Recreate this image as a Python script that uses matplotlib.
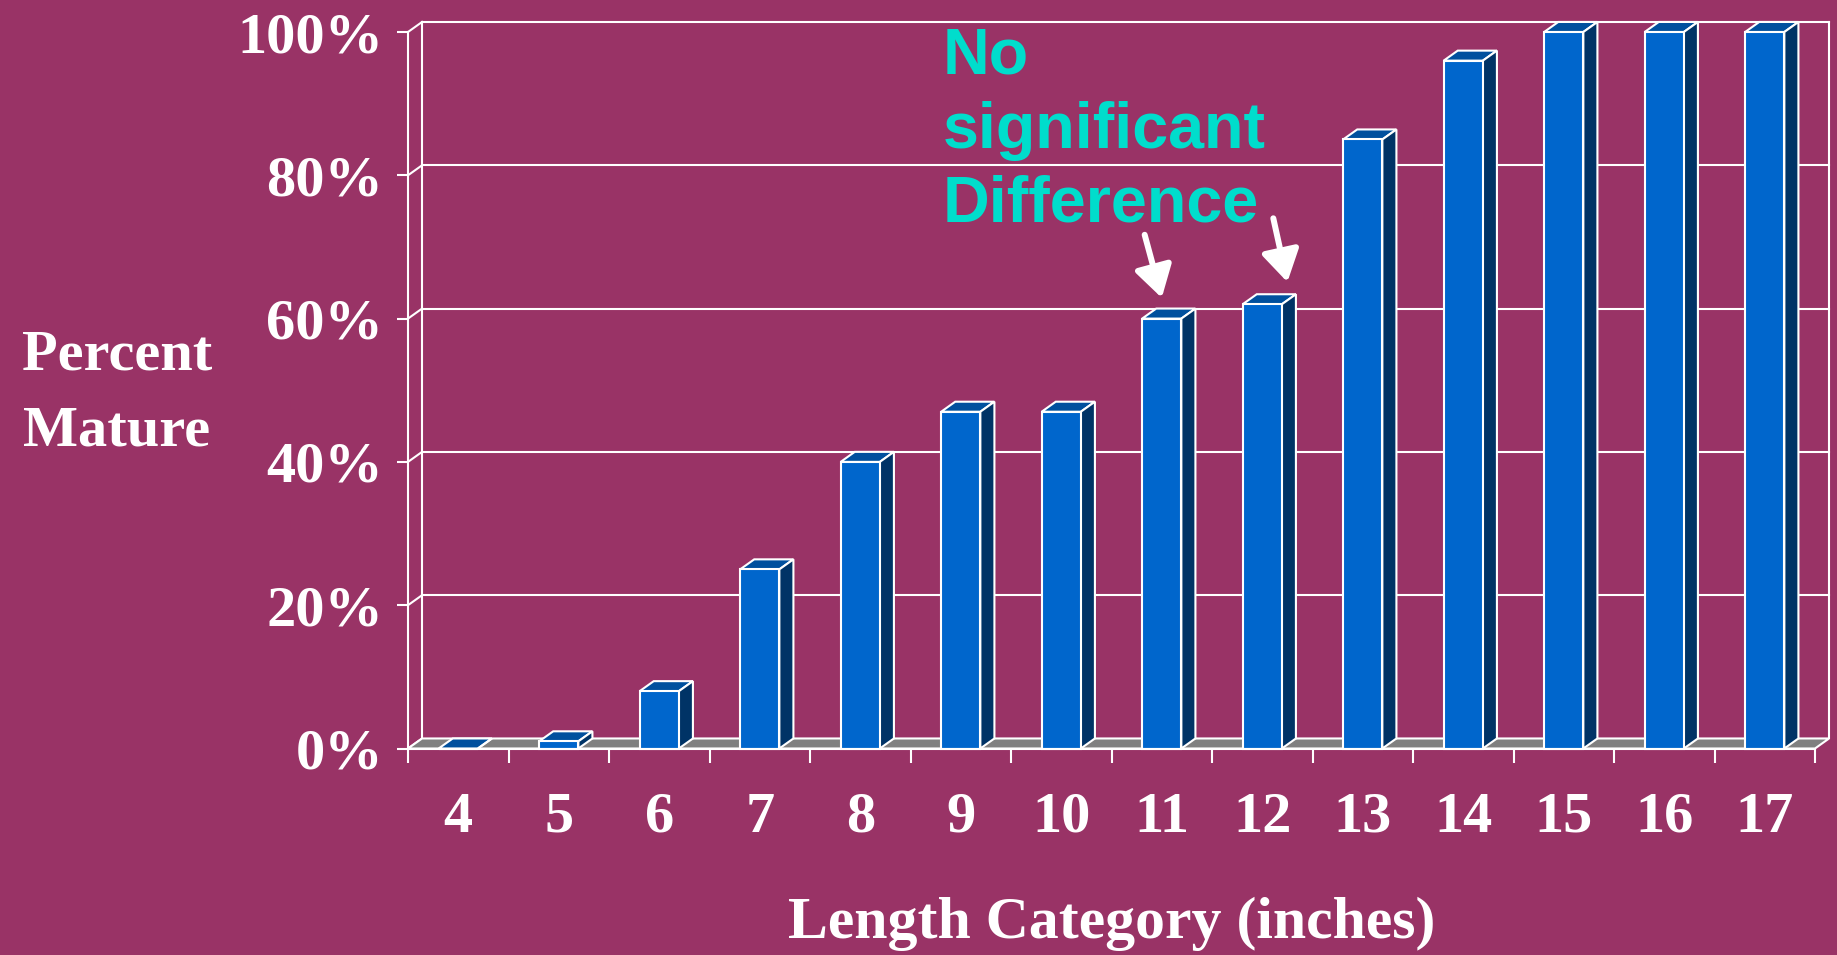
import matplotlib
matplotlib.use("Agg")
import matplotlib.pyplot as plt
from matplotlib.patches import Polygon
import numpy as np

# length classes (inches) and share of fish that were mature
lengths = ["4", "5", "6", "7", "8", "9", "10", "11", "12", "13", "14", "15", "16", "17"]
pct_mature = [0, 1, 8, 25, 40, 47, 47, 60, 62, 85, 96, 100, 100, 100]
pct_ticks = [0, 20, 40, 60, 80, 100]
note = "No\nsignificant\nDifference"
# arrows from the note down to the 11 and 12 inch bars: (tail, head)
note_arrows = [((6.83, 71.7), (7.0, 62.9)),
               ((8.11, 74.0), (8.25, 65.1))]

BG = "#993366"
FRONT = "#0066CC"
TOP = "#00509E"
SIDE = "#003366"
FLOOR = "#808080"
LINE = "white"
NOTE_COLOR = "#00DDCC"

serif = "Liberation Serif"
sans = "Liberation Sans"

# fake 3-D depth, in data units
dx = 0.14
dy = 1.4
bar_w = 0.39
lw = 1.5

fig = plt.figure(figsize=(18.37, 9.55), dpi=100, facecolor=BG)
ax = fig.add_axes([408 / 1837, 206.5 / 955, 1407 / 1837, 716.5 / 955])
ax.set_facecolor(BG)
ax.patch.set_visible(False)

x = np.arange(len(lengths))
lo, hi = -0.5, len(lengths) - 0.5
ax.set_xlim(lo, hi)
ax.set_ylim(0, 100)

# back wall: gridlines, corner edges and the links to the front axis
for v in pct_ticks[1:]:
    ax.plot([lo + dx, hi + dx], [v + dy, v + dy], color=LINE, lw=lw,
            clip_on=False, zorder=1)
for v in pct_ticks:
    ax.plot([lo, lo + dx], [v, v + dy], color=LINE, lw=lw,
            clip_on=False, zorder=1)
for xe in (lo + dx, hi + dx):
    ax.plot([xe, xe], [dy, 100 + dy], color=LINE, lw=lw,
            clip_on=False, zorder=1)

# floor
ax.add_patch(Polygon([(lo, 0), (hi, 0), (hi + dx, dy), (lo + dx, dy)],
                     closed=True, facecolor=FLOOR, edgecolor=LINE, lw=lw,
                     clip_on=False, zorder=2))

# bars: front face plus top and side faces
ax.bar(x, pct_mature, bar_w, color=FRONT, edgecolor=LINE, lw=lw, zorder=4,
       clip_on=False)
for xi, v in zip(x, pct_mature):
    xl, xr = xi - bar_w / 2, xi + bar_w / 2
    ax.add_patch(Polygon([(xl, v), (xr, v), (xr + dx, v + dy), (xl + dx, v + dy)],
                         closed=True, facecolor=TOP, edgecolor=LINE, lw=lw,
                         clip_on=False, zorder=3))
    ax.add_patch(Polygon([(xr, 0), (xr + dx, dy), (xr + dx, v + dy), (xr, v)],
                         closed=True, facecolor=SIDE, edgecolor=LINE, lw=lw,
                         clip_on=False, zorder=3))

# axes
for side in ("top", "right"):
    ax.spines[side].set_visible(False)
for side in ("left", "bottom"):
    ax.spines[side].set_color(LINE)
    ax.spines[side].set_linewidth(lw)
    ax.spines[side].set_zorder(5)

ax.set_yticks(pct_ticks)
ax.set_yticklabels([f"{v}%" for v in pct_ticks])
ax.tick_params(axis="y", length=8, width=lw, color=LINE, pad=10,
               labelcolor="white", labelsize=42)
ax.set_xticks(x)
ax.set_xticklabels(lengths)
ax.set_xticks(np.arange(lo, hi + 0.01, 1.0), minor=True)
ax.tick_params(axis="x", which="major", length=0, pad=31,
               labelcolor="white", labelsize=42)
ax.tick_params(axis="x", which="minor", length=10, width=lw, color=LINE)
for lab in ax.get_xticklabels() + ax.get_yticklabels():
    lab.set_fontfamily(serif)
    lab.set_fontweight("bold")

ax.set_xlabel("Length Category (inches)", fontsize=43, fontweight="bold",
              family=serif, color="white", va="baseline")
ax.xaxis.set_label_coords(0.5, -0.264)
ax.set_ylabel("Percent\nMature", fontsize=42, fontweight="bold", family=serif,
              color="white", rotation=0, ha="center", va="center",
              multialignment="center", linespacing=1.6)
ax.yaxis.set_label_coords(-0.2068, 0.495)

# note about the 11 and 12 inch classes (baseline of its last line)
ax.text(4.823, 73.5, note, ha="left", va="baseline", color=NOTE_COLOR,
        fontsize=46.5, fontweight="bold", family=sans, linespacing=1.3,
        zorder=6)
for tail, head in note_arrows:
    ax.annotate("", xy=head, xytext=tail,
                arrowprops=dict(arrowstyle="-|>,head_length=1.9,head_width=1.15",
                                color="white", lw=4.3, shrinkA=0, shrinkB=0,
                                mutation_scale=10),
                zorder=6)

fig.savefig("out.png", dpi=100, facecolor=BG)
